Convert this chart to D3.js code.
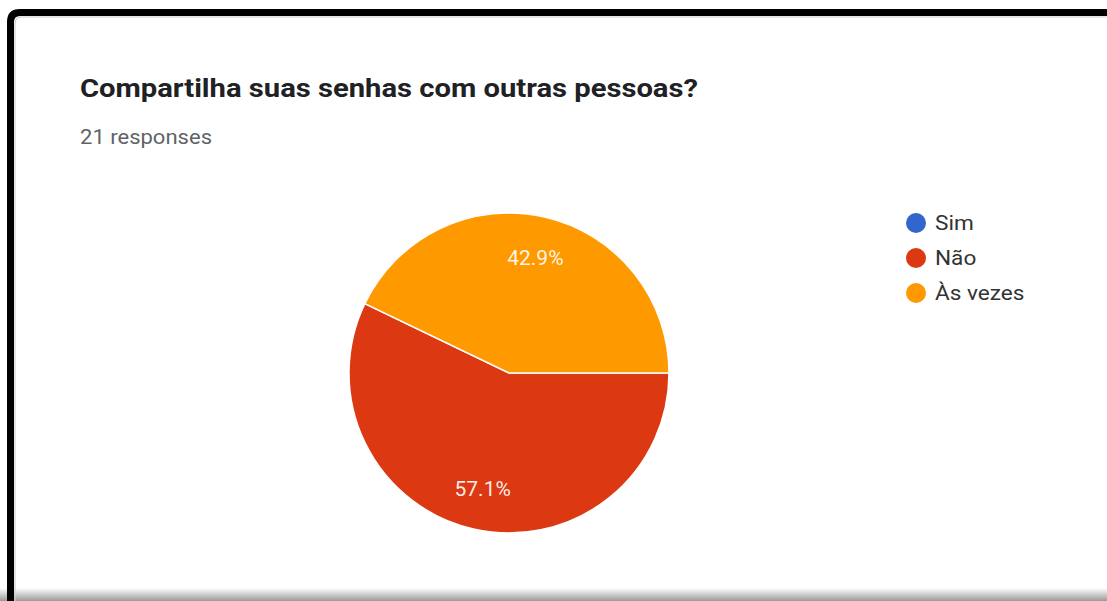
<!DOCTYPE html>
<html>
<head>
<meta charset="utf-8">
<script src="https://cdn.jsdelivr.net/npm/d3@7"></script>
<style>
  html, body { margin: 0; padding: 0; background: #fff; }
  svg { display: block; }
</style>
</head>
<body>
<svg id="chart" width="1107" height="601"></svg>
<script>
const title = "Compartilha suas senhas com outras pessoas?";
const subtitle = "21 responses";
const categories = ["Sim", "Não", "Às vezes"];
const counts = [0, 12, 9];
const colors = ["#3366cc", "#dc3912", "#ff9900"];

const svg = d3.select("#chart");
const W = 1107, H = 601;

const defs = svg.append("defs");
const g1 = defs.append("linearGradient").attr("id", "shadowB").attr("x1", 0).attr("y1", 0).attr("x2", 0).attr("y2", 1);
g1.append("stop").attr("offset", "0%").attr("stop-color", "#fff");
g1.append("stop").attr("offset", "100%").attr("stop-color", "#9a9a9a");

svg.append("rect").attr("width", W).attr("height", H).attr("fill", "#fff");
svg.append("rect").attr("x", 0).attr("y", 588).attr("width", W).attr("height", 13).attr("fill", "url(#shadowB)");

svg.append("path")
  .attr("d", "M10.5,601 L10.5,22 Q10.5,12.5 20,12.5 L1107,12.5")
  .attr("fill", "none").attr("stroke", "#000").attr("stroke-width", 7);
svg.append("path")
  .attr("d", "M15,601 L15,24 Q15,17 22,17 L1107,17")
  .attr("fill", "none").attr("stroke", "#d0d0d0").attr("stroke-width", 1.2);

function stretch(sel, target) {
  sel.attr("textLength", target).attr("lengthAdjust", "spacingAndGlyphs");
}

svg.append("text").attr("x", 80).attr("y", 97)
  .attr("font-family", "Roboto").attr("font-weight", 700).attr("font-size", 26.5)
  .attr("fill", "#202124").text(title).call(stretch, 618);
svg.append("text").attr("x", 80).attr("y", 144)
  .attr("font-family", "Roboto").attr("font-size", 21)
  .attr("fill", "#5f6368").text(subtitle).call(stretch, 132);

const cx = 509, cy = 373, R = 160;
const total = d3.sum(counts);
const data = categories.map((c, i) => ({ name: c, value: counts[i], color: colors[i] }));
const pie = d3.pie().value(d => d.value).sort(null)
  .startAngle(Math.PI / 2).endAngle(Math.PI / 2 + 2 * Math.PI);
const arcs = pie(data);
const arc = d3.arc().innerRadius(0).outerRadius(R);
const labelArc = d3.arc().innerRadius(R * 0.74).outerRadius(R * 0.74);

const pg = svg.append("g").attr("transform", `translate(${cx},${cy})`);
pg.selectAll("path").data(arcs.filter(a => a.data.value > 0)).join("path")
  .attr("d", arc).attr("fill", d => d.data.color)
  .attr("stroke", "#fff").attr("stroke-width", 1.5);
pg.selectAll("text").data(arcs.filter(a => a.data.value > 0)).join("text")
  .attr("transform", d => `translate(${labelArc.centroid(d)})`)
  .attr("text-anchor", "middle").attr("dy", "0.36em")
  .attr("font-family", "Roboto").attr("font-size", 21).attr("fill", "#fff")
  .attr("fill-opacity", 0.92)
  .text(d => (d.data.value / total * 100).toFixed(1) + "%");

const lg = svg.append("g").attr("transform", "translate(916,223)");
const items = lg.selectAll("g").data(data).join("g")
  .attr("transform", (d, i) => `translate(0,${i * 35})`);
items.append("circle").attr("r", 10).attr("fill", d => d.color);
items.append("text").attr("x", 19).attr("dy", "0.36em")
  .attr("font-family", "Roboto").attr("font-size", 20).attr("fill", "#333")
  .text(d => d.name)
  .each(function () {
    const w = this.getComputedTextLength();
    d3.select(this).attr("textLength", w * 1.13).attr("lengthAdjust", "spacingAndGlyphs");
  });
</script>
</body>
</html>
